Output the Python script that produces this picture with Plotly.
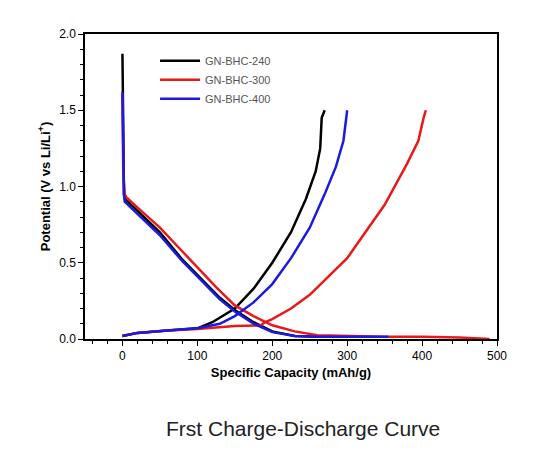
import plotly.graph_objects as go

names = ["GN-BHC-240", "GN-BHC-300", "GN-BHC-400"]
colors = ["black", "#e8191a", "#1a1ae0"]

dis_x = [[0, 0.5, 1, 2, 3, 20, 50, 80, 100, 130, 150, 175, 200, 230, 260, 270],
         [0, 1, 3, 5, 25, 50, 75, 100, 125, 150, 175, 200, 230, 260, 300, 350, 400, 450, 490],
         [0, 0.5, 1, 2, 3, 20, 50, 80, 100, 130, 150, 175, 200, 230, 260, 300, 355]]
dis_y = [[1.87, 1.5, 1.1, 0.95, 0.92, 0.84, 0.7, 0.52, 0.42, 0.27, 0.19, 0.11, 0.05, 0.02, 0.015, 0.015],
         [1.6, 1.1, 0.95, 0.93, 0.84, 0.73, 0.6, 0.47, 0.34, 0.22, 0.15, 0.09, 0.05, 0.025, 0.02, 0.015, 0.015, 0.01, 0.0],
         [1.62, 1.3, 1.05, 0.95, 0.9, 0.82, 0.68, 0.51, 0.41, 0.26, 0.18, 0.1, 0.045, 0.02, 0.015, 0.015, 0.015]]
chg_x = [[0, 20, 60, 100, 120, 150, 175, 200, 225, 245, 258, 264, 266, 270],
         [0, 20, 60, 100, 150, 185, 190, 200, 225, 250, 300, 350, 380, 395, 402, 405],
         [0, 20, 60, 100, 130, 150, 175, 200, 225, 250, 270, 285, 295, 298, 300]]
chg_y = [[0.02, 0.04, 0.055, 0.07, 0.11, 0.2, 0.33, 0.5, 0.7, 0.92, 1.1, 1.25, 1.45, 1.5],
         [0.02, 0.04, 0.055, 0.065, 0.085, 0.09, 0.11, 0.13, 0.2, 0.29, 0.53, 0.88, 1.15, 1.3, 1.45, 1.5],
         [0.02, 0.04, 0.055, 0.07, 0.1, 0.15, 0.24, 0.36, 0.53, 0.73, 0.95, 1.13, 1.3, 1.4, 1.5]]

fig = go.Figure()
for i in range(3):
    fig.add_trace(go.Scatter(x=dis_x[i], y=dis_y[i], mode="lines", name=names[i],
                             line=dict(color=colors[i], width=2.5), legendgroup=names[i]))
    fig.add_trace(go.Scatter(x=chg_x[i], y=chg_y[i], mode="lines", name=names[i], showlegend=False,
                             line=dict(color=colors[i], width=2.5), legendgroup=names[i]))

axis_common = dict(showline=True, linecolor="black", linewidth=1.5, mirror=True, ticks="outside",
                   ticklen=5, tickcolor="black", showgrid=False, zeroline=False,
                   tickfont=dict(family="Arial", size=12, color="black"),
                   minor=dict(ticks="outside", ticklen=3, tickcolor="black"))
fig.update_xaxes(range=[-50, 500], dtick=100, title=dict(text="<b>Specific Capacity (mAh/g)</b>",
                 font=dict(family="Arial", size=13, color="black"), standoff=6), **axis_common)
fig.update_yaxes(range=[0, 2.0], dtick=0.5, tickformat=".1f", title=dict(text="<b>Potential (V vs Li/Li<sup>+</sup>)</b>",
                 font=dict(family="Arial", size=13, color="black"), standoff=6), **axis_common)

fig.update_layout(width=547, height=463, paper_bgcolor="white", plot_bgcolor="white",
                  margin=dict(l=77, r=58, t=26, b=132),
                  legend=dict(x=0.17, y=0.96, bgcolor="rgba(0,0,0,0)", font=dict(family="Arial", size=11, color="#555"),
                              tracegroupgap=0, itemwidth=40),
                  annotations=[dict(text="Frst Charge-Discharge Curve", xref="paper", yref="paper",
                                    x=0.53, y=-0.295, showarrow=False, xanchor="center", yanchor="middle",
                                    font=dict(family="Liberation Sans", size=21, color="#222"))])
fig.write_html("out.html")
